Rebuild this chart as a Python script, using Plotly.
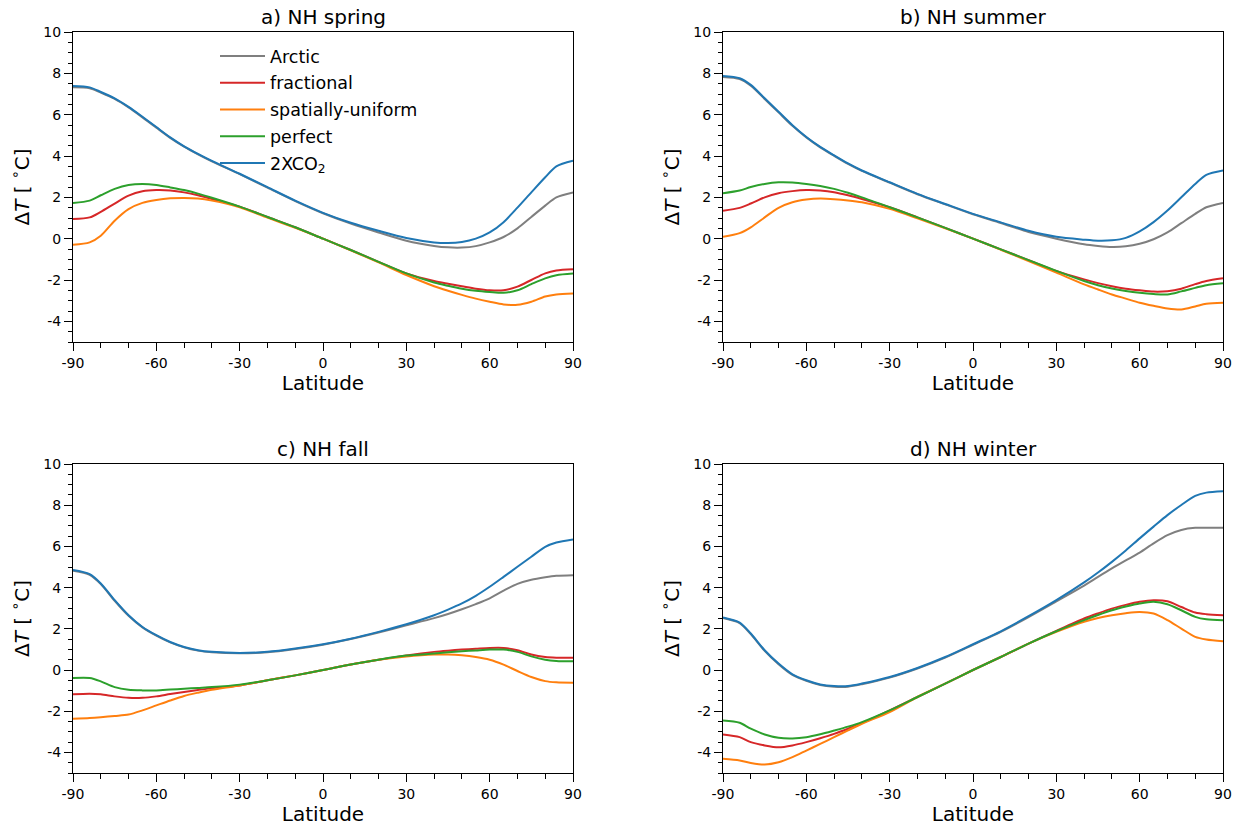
import plotly.graph_objects as go
from plotly.subplots import make_subplots

lat = [-90, -84, -80, -75, -70, -65, -60, -55, -50, -45, -40, -30, -20, -10, 0,
       10, 20, 30, 40, 45, 50, 55, 60, 65, 70, 75, 80, 84, 90]

series_names = ["Arctic", "fractional", "spatially-uniform", "perfect", "2XCO<sub>2</sub>"]
series_colors = ["#7f7f7f", "#d62728", "#ff7f0e", "#2ca02c", "#1f77b4"]
panel_titles = ["a) NH spring", "b) NH summer", "c) NH fall", "d) NH winter"]

# a) NH spring
spring_arctic = [7.33, 7.28, 7.07, 6.76, 6.35, 5.87, 5.37, 4.88, 4.45, 4.08, 3.74, 3.12, 2.47, 1.82, 1.23,
                 0.73, 0.30, -0.10, -0.35, -0.42, -0.43, -0.36, -0.18, 0.08, 0.50, 1.05, 1.60, 2.00, 2.24]
spring_fractional = [0.95, 1.03, 1.30, 1.70, 2.08, 2.29, 2.35, 2.33, 2.24, 2.10, 1.92, 1.55, 1.05, 0.55, 0.0,
                     -0.55, -1.12, -1.68, -2.05, -2.18, -2.30, -2.42, -2.50, -2.50, -2.32, -2.00, -1.68, -1.54, -1.48]
spring_uniform = [-0.30, -0.18, 0.14, 0.87, 1.43, 1.73, 1.87, 1.95, 1.97, 1.94, 1.84, 1.52, 1.02, 0.52, 0.0,
                  -0.57, -1.15, -1.76, -2.30, -2.52, -2.72, -2.90, -3.05, -3.18, -3.20, -3.05, -2.80, -2.70, -2.65]
spring_perfect = [1.73, 1.84, 2.10, 2.41, 2.60, 2.65, 2.60, 2.48, 2.35, 2.18, 1.98, 1.55, 1.05, 0.55, 0.0,
                  -0.55, -1.12, -1.68, -2.12, -2.28, -2.42, -2.52, -2.58, -2.62, -2.50, -2.20, -1.92, -1.77, -1.69]
spring_co2 = [7.39, 7.32, 7.10, 6.79, 6.38, 5.90, 5.40, 4.90, 4.47, 4.10, 3.76, 3.14, 2.49, 1.84, 1.25,
              0.77, 0.38, 0.03, -0.18, -0.21, -0.16, 0.00, 0.30, 0.80, 1.50, 2.24, 2.97, 3.50, 3.77]

# b) NH summer
summer_arctic = [7.82, 7.72, 7.40, 6.76, 6.11, 5.46, 4.90, 4.42, 4.01, 3.62, 3.28, 2.71, 2.15, 1.66, 1.18,
                 0.76, 0.32, 0.00, -0.27, -0.35, -0.40, -0.37, -0.25, -0.03, 0.30, 0.75, 1.20, 1.52, 1.73]
summer_fractional = [1.35, 1.49, 1.70, 2.00, 2.20, 2.30, 2.35, 2.33, 2.25, 2.10, 1.92, 1.52, 1.03, 0.52, 0.0,
                     -0.52, -1.04, -1.56, -1.97, -2.15, -2.30, -2.42, -2.50, -2.56, -2.54, -2.42, -2.20, -2.05, -1.92]
summer_uniform = [0.09, 0.27, 0.55, 1.03, 1.49, 1.76, 1.89, 1.94, 1.91, 1.85, 1.76, 1.44, 0.98, 0.50, 0.0,
                  -0.54, -1.08, -1.64, -2.21, -2.46, -2.70, -2.90, -3.10, -3.25, -3.38, -3.43, -3.28, -3.15, -3.10]
summer_perfect = [2.20, 2.33, 2.50, 2.65, 2.73, 2.72, 2.65, 2.55, 2.41, 2.22, 2.00, 1.52, 1.03, 0.52, 0.0,
                  -0.52, -1.04, -1.56, -2.05, -2.25, -2.41, -2.53, -2.62, -2.68, -2.70, -2.55, -2.38, -2.25, -2.16]
summer_co2 = [7.87, 7.76, 7.44, 6.79, 6.14, 5.49, 4.92, 4.44, 4.03, 3.64, 3.30, 2.73, 2.17, 1.68, 1.20,
              0.79, 0.38, 0.09, -0.05, -0.10, -0.08, 0.04, 0.35, 0.80, 1.36, 2.00, 2.65, 3.09, 3.30]

# c) NH fall
fall_arctic = [4.82, 4.62, 4.17, 3.36, 2.63, 2.07, 1.67, 1.34, 1.10, 0.94, 0.86, 0.81, 0.86, 1.02, 1.23,
               1.50, 1.82, 2.17, 2.52, 2.72, 2.95, 3.20, 3.48, 3.85, 4.18, 4.38, 4.50, 4.57, 4.60]
fall_fractional = [-1.18, -1.15, -1.18, -1.28, -1.35, -1.35, -1.28, -1.17, -1.07, -0.97, -0.88, -0.75, -0.50, -0.26, 0.0,
                   0.27, 0.50, 0.71, 0.88, 0.94, 0.99, 1.03, 1.07, 1.07, 0.96, 0.75, 0.63, 0.60, 0.60]
fall_uniform = [-2.37, -2.33, -2.29, -2.23, -2.16, -1.96, -1.72, -1.48, -1.26, -1.10, -0.96, -0.75, -0.50, -0.26, 0.0,
                0.27, 0.50, 0.66, 0.75, 0.75, 0.71, 0.63, 0.50, 0.26, -0.05, -0.34, -0.54, -0.60, -0.62]
fall_perfect = [-0.39, -0.39, -0.55, -0.83, -0.96, -0.99, -0.99, -0.95, -0.91, -0.87, -0.83, -0.71, -0.50, -0.26, 0.0,
                0.27, 0.50, 0.70, 0.80, 0.86, 0.91, 0.95, 0.99, 0.99, 0.88, 0.66, 0.50, 0.44, 0.42]
fall_co2 = [4.85, 4.65, 4.20, 3.39, 2.66, 2.09, 1.69, 1.36, 1.12, 0.96, 0.88, 0.83, 0.88, 1.04, 1.25,
            1.52, 1.85, 2.22, 2.66, 2.93, 3.23, 3.60, 4.04, 4.52, 5.01, 5.50, 5.98, 6.19, 6.34]

# d) NH winter
winter_arctic = [2.52, 2.27, 1.74, 0.93, 0.28, -0.24, -0.53, -0.73, -0.81, -0.81, -0.69, -0.37, 0.07, 0.60, 1.22,
                 1.85, 2.57, 3.33, 4.10, 4.52, 4.93, 5.32, 5.70, 6.15, 6.55, 6.80, 6.90, 6.90, 6.90]
winter_fractional = [-3.13, -3.26, -3.50, -3.66, -3.75, -3.66, -3.50, -3.31, -3.10, -2.85, -2.58, -1.96, -1.31, -0.66, 0.0,
                     0.63, 1.28, 1.90, 2.50, 2.75, 2.98, 3.16, 3.31, 3.39, 3.34, 3.06, 2.79, 2.71, 2.66]
winter_uniform = [-4.31, -4.39, -4.51, -4.59, -4.48, -4.23, -3.91, -3.59, -3.26, -2.93, -2.61, -2.04, -1.31, -0.66, 0.0,
                  0.63, 1.28, 1.85, 2.34, 2.52, 2.66, 2.76, 2.82, 2.74, 2.42, 2.01, 1.61, 1.48, 1.39]
winter_perfect = [-2.45, -2.56, -2.85, -3.13, -3.29, -3.32, -3.26, -3.12, -2.94, -2.75, -2.53, -1.96, -1.31, -0.66, 0.0,
                  0.63, 1.28, 1.88, 2.42, 2.67, 2.90, 3.08, 3.23, 3.31, 3.19, 2.90, 2.58, 2.46, 2.42]
winter_co2 = [2.55, 2.30, 1.77, 0.96, 0.31, -0.21, -0.50, -0.70, -0.78, -0.78, -0.66, -0.34, 0.10, 0.63, 1.25,
              1.88, 2.61, 3.39, 4.25, 4.73, 5.25, 5.80, 6.39, 6.96, 7.52, 8.01, 8.45, 8.61, 8.68]

panels = [
    [spring_arctic, spring_fractional, spring_uniform, spring_perfect, spring_co2],
    [summer_arctic, summer_fractional, summer_uniform, summer_perfect, summer_co2],
    [fall_arctic, fall_fractional, fall_uniform, fall_perfect, fall_co2],
    [winter_arctic, winter_fractional, winter_uniform, winter_perfect, winter_co2],
]

x_tickvals = [-90, -60, -30, 0, 30, 60, 90]
x_ticktext = ["-90", "-60", "-30", "0", "30", "60", "90"]
y_tickvals = [-4, -2, 0, 2, 4, 6, 8, 10]
y_ticktext = ["-4", "-2", "0", "2", "4", "6", "8", "10"]

FONT = "DejaVu Sans"
W, H = 1243, 830

fig = make_subplots(rows=2, cols=2)

for p, data in enumerate(panels):
    r, c = p // 2 + 1, p % 2 + 1
    for k, vals in enumerate(data):
        fig.add_trace(go.Scatter(
            x=lat, y=vals, mode="lines", name=series_names[k],
            line=dict(color=series_colors[k], width=2, shape="spline", smoothing=0.8),
            showlegend=(p == 0), legendgroup=series_names[k],
        ), row=r, col=c)

# domains from pixel positions
xdom = [[73 / W, 573 / W], [723 / W, 1223 / W]]
ydom = [[1 - 342 / H, 1 - 32 / H], [1 - 773 / H, 1 - 464 / H]]

for p in range(4):
    r, c = p // 2, p % 2
    sfx = "" if p == 0 else str(p + 1)
    fig.layout["xaxis" + sfx].update(
        domain=xdom[c], range=[-90, 90], tickvals=x_tickvals, ticktext=x_ticktext,
        ticks="outside", ticklen=8, tickwidth=1, tickcolor="black",
        minor=dict(dtick=10, tick0=0, ticks="outside", ticklen=4.5, tickwidth=1, tickcolor="black", showgrid=False),
        showline=True, linecolor="black", linewidth=1, mirror=True, showgrid=False, zeroline=False,
        tickfont=dict(family=FONT, size=14, color="black"), automargin=False,
        title=dict(text="Latitude", font=dict(family=FONT, size=20, color="black"), standoff=5),
    )
    fig.layout["yaxis" + sfx].update(
        domain=ydom[r], range=[-5, 10], tickvals=y_tickvals, ticktext=y_ticktext,
        ticks="outside", ticklen=8, tickwidth=1, tickcolor="black",
        minor=dict(dtick=0.5, tick0=0, ticks="outside", ticklen=4.5, tickwidth=1, tickcolor="black", showgrid=False),
        showline=True, linecolor="black", linewidth=1, mirror=True, showgrid=False, zeroline=False,
        tickfont=dict(family=FONT, size=14, color="black"), automargin=False,
        title=dict(text="Δ<i>T</i> [ <sup>∘</sup>C]", font=dict(family=FONT, size=20, color="black"), standoff=8),
    )
    fig.add_annotation(
        text=panel_titles[p], xref="paper", yref="paper",
        x=(xdom[c][0] + xdom[c][1]) / 2, y=ydom[r][1], yshift=1,
        xanchor="center", yanchor="bottom", showarrow=False,
        font=dict(family=FONT, size=20, color="black"),
    )

fig.update_layout(
    width=W, height=H,
    margin=dict(l=0, r=0, t=0, b=0),
    paper_bgcolor="white", plot_bgcolor="white",
    font=dict(family=FONT, color="black"),
    legend=dict(x=215 / W, y=1 - 38 / H, xanchor="left", yanchor="top",
                bgcolor="rgba(0,0,0,0)", font=dict(family=FONT, size=17.5, color="black"),
                tracegroupgap=1, itemwidth=45),
)

fig.write_html("out.html", config={"displayModeBar": False},
               post_script="document.body.style.margin='0px';")
